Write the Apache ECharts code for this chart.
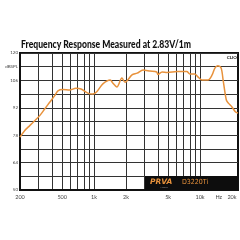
<!DOCTYPE html>
<html>
<head>
<meta charset="utf-8">
<script src="https://cdn.jsdelivr.net/npm/echarts@6/dist/echarts.min.js"></script>
<style>
  html, body { margin: 0; padding: 0; background: #fff; }
  #chart { width: 240px; height: 240px; }
</style>
</head>
<body>
<div id="chart"></div>
<script>
// ── Data ──────────────────────────────────────────────────────
const freqs = [200, 221, 247, 275, 307, 342, 381, 425, 456, 508, 588, 673, 754, 872, 975,
  1060, 1210, 1420, 1500, 1640, 1830, 1960, 2280, 2550, 2900, 3370, 3900, 4000, 4380, 4900,
  6100, 7500, 8000, 8900, 9500, 10400, 11900, 13000, 13800, 14700, 15800, 16500, 17700,
  18500, 20000, 21500, 22800];
const splDb = [77, 80.3, 82.9, 85.4, 88, 91.4, 94.8, 98.2, 100.7, 101.3, 101.1, 102, 101.6, 99.5, 99,
  100.2, 104.2, 106.2, 104.7, 102.6, 107.2, 105, 108.8, 109.7, 111.3, 110.8, 110.3, 109, 110.3, 110,
  110.5, 110.5, 109.3, 109.3, 107.9, 106.2, 106.2, 108.8, 112.3, 113.5, 112.3, 106.2, 96,
  94.4, 92.4, 90, 89.3];

const xGridFreqs = [300, 400, 500, 600, 700, 800, 900, 1000, 2000, 3000, 4000, 5000,
  6000, 7000, 8000, 9000, 10000];
const xLabelFreqs = [200, 500, 1000, 2000, 5000, 10000, 15000, 20000];
const xLabelTexts = ['200', '500', '1k', '2k', '5k', '10k', 'Hz', '20k'];

const yGridValues = [50, 57, 64, 71, 78, 85, 92, 99, 106, 113, 120];
const yLabelValues = [50, 64, 78, 92, 106, 113, 120];
const yLabelTexts = ['50', '64', '78', '92', '106', 'dBSPL', '120'];

const F_MIN = 200, F_MAX = 22800;
const TITLE = 'Frequency Response Measured at 2.83V/1m';

// ── Helpers ───────────────────────────────────────────────────
const lg = f => Math.log10(f);
const INK = '#111';
const GRID = '#333';
const ORANGE = '#e8923c';
const FONT = 'Lato, "DejaVu Sans", sans-serif';

function xLabel(v) {
  const f = Math.round(Math.pow(10, v));
  const i = xLabelFreqs.findIndex(x => Math.abs(x - f) < 2);
  return i >= 0 ? xLabelTexts[i] : '';
}
function yLabel(v) {
  const i = yLabelValues.findIndex(x => Math.abs(x - v) < 0.01);
  return i >= 0 ? yLabelTexts[i] : '';
}

// title is squeezed horizontally so it spans the same width as the original
const ctx = document.createElement('canvas').getContext('2d');
ctx.font = '900 11px ' + FONT;
const titleScale = 170 / ctx.measureText(TITLE).width;

const chart = echarts.init(document.getElementById('chart'), null, { renderer: 'canvas' });

chart.setOption({
  animation: false,
  backgroundColor: '#fff',
  grid: {
    left: 20, right: 2, top: 53, bottom: 50,
    show: true, borderColor: INK, borderWidth: 2, backgroundColor: 'transparent'
  },
  xAxis: {
    type: 'value',
    min: lg(F_MIN), max: lg(F_MAX),
    axisLine: { show: true, lineStyle: { color: INK, width: 2 } },
    axisTick: { show: false, customValues: xGridFreqs.map(lg) },
    splitLine: { show: true, lineStyle: { color: GRID, width: 1 } },
    axisLabel: {
      customValues: xLabelFreqs.map(lg),
      formatter: xLabel,
      fontFamily: FONT, fontSize: 5.5, color: '#444', margin: 4
    }
  },
  yAxis: {
    type: 'value',
    min: 50, max: 120,
    axisLine: { show: true, lineStyle: { color: INK, width: 2 } },
    axisTick: { show: false, customValues: yGridValues },
    splitLine: { show: true, lineStyle: { color: GRID, width: 1 } },
    axisLabel: {
      customValues: yLabelValues,
      formatter: yLabel,
      fontFamily: FONT, fontSize: 4.5, color: '#444', margin: 2
    }
  },
  series: [{
    type: 'line',
    data: freqs.map((f, i) => [lg(f), splDb[i]]),
    showSymbol: false,
    smooth: 0.3,
    lineStyle: { color: ORANGE, width: 1.5 },
    z: 5
  }],
  graphic: [
    {
      type: 'text', x: 21, y: 44, scaleX: titleScale, z: 10,
      style: {
        text: TITLE, fontFamily: FONT, fontWeight: 900, fontSize: 11,
        fill: INK, verticalAlign: 'middle'
      }
    },
    {
      type: 'text', right: 3, top: 55, z: 10,
      style: { text: 'CLIO', fontFamily: FONT, fontWeight: 'bold', fontSize: 4.5, fill: INK }
    },
    {
      type: 'rect', shape: { x: 145, y: 176, width: 93, height: 14 }, z: 10,
      style: { fill: '#0d0d0d' }
    },
    {
      type: 'text', x: 150, y: 178, z: 11,
      style: { text: 'PRVA', fontFamily: '"DejaVu Sans"', fontWeight: 'bold', fontStyle: 'italic', fontSize: 7.5, fill: ORANGE }
    },
    {
      type: 'text', x: 160, y: 186, z: 11,
      style: { text: 'AUDIO', fontFamily: FONT, fontSize: 2.5, fill: '#888' }
    },
    {
      type: 'text', x: 182, y: 179, z: 11,
      style: { text: 'D3220Ti', fontFamily: '"DejaVu Sans Condensed", "DejaVu Sans"', fontSize: 7, fill: ORANGE }
    }
  ]
});
</script>
</body>
</html>
